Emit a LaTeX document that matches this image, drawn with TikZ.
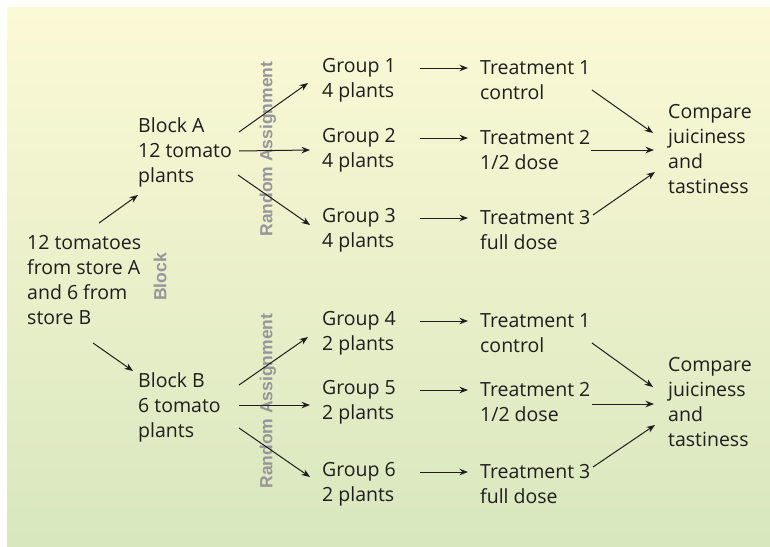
\documentclass[tikz,border=0pt]{standalone}
\usepackage{fontspec}
\setmainfont{Open Sans}
\newfontfamily\labelfont{Liberation Sans}
\usetikzlibrary{arrows.meta}
\definecolor{bgtop}{RGB}{252,249,214}
\definecolor{bgbot}{RGB}{216,231,190}
\definecolor{lblgray}{RGB}{150,150,155}
\definecolor{ink}{RGB}{30,30,30}
\begin{document}
\begin{tikzpicture}[x=1pt,y=-1pt,
  txt/.style={anchor=west, align=left, inner sep=0pt, font=\fontsize{19.5}{25}\selectfont, text=ink},
  lbl/.style={font=\labelfont\bfseries\fontsize{17.5}{17.5}\selectfont, text=lblgray, rotate=90, inner sep=0pt},
  arr/.style={-{Stealth[length=8.5pt,width=6.5pt]}, line width=1pt, draw=ink}]
\fill[white] (0,0) rectangle (770,546);
\shade[top color=bgtop, bottom color=bgbot] (7,7) rectangle (770,546);
\useasboundingbox (0,0) rectangle (770,546);

% texts
\node[txt] (start) at (27,280.5) {12 tomatoes\\from store A\\and 6 from\\store B};
\node[txt] (blockA) at (138,152) {Block A\\12 tomato\\plants};
\node[txt] (blockB) at (138,407) {Block B\\6 tomato\\plants};
\node[txt] (g1) at (322,80) {Group 1\\4 plants};
\node[txt] (g2) at (322,150) {Group 2\\4 plants};
\node[txt] (g3) at (322,230) {Group 3\\4 plants};
\node[txt] (g4) at (322,333) {Group 4\\2 plants};
\node[txt] (g5) at (322,402) {Group 5\\2 plants};
\node[txt] (g6) at (322,484) {Group 6\\2 plants};
\node[txt] (t1) at (480,80) {Treatment 1\\control};
\node[txt] (t2) at (480,150) {Treatment 2\\1/2 dose};
\node[txt] (t3) at (480,230) {Treatment 3\\full dose};
\node[txt] (t4) at (480,333) {Treatment 1\\control};
\node[txt] (t5) at (480,402) {Treatment 2\\1/2 dose};
\node[txt] (t6) at (480,484) {Treatment 3\\full dose};
\node[txt] (c1) at (668,149.5) {Compare\\juiciness\\and\\tastiness};
\node[txt] (c2) at (668,402) {Compare\\juiciness\\and\\tastiness};

% rotated labels
\node[lbl] (raA) at (268,149) {Random Assignment};
\node[lbl] (raB) at (268,401) {Random Assignment};
\node[lbl] (blk) at (160,277) {Block};

% arrows: start to blocks
\draw[arr] ([shift={(72,-57.5)}]start.west) -- ([shift={(0,43)}]blockA.west);
\draw[arr] ([shift={(66,62.5)}]start.west) -- ([shift={(-5,-36)}]blockB.west);

% blocks to groups
\draw[arr] ([shift={(101,-20)}]blockA.west) -- ([shift={(-14,3)}]g1.west);
\draw[arr] ([shift={(101,-1)}]blockA.west) -- ([shift={(-12,0)}]g2.west);
\draw[arr] ([shift={(100,23)}]blockA.west) -- ([shift={(-12,-5)}]g3.west);
\draw[arr] ([shift={(101,-22)}]blockB.west) -- ([shift={(-14,4)}]g4.west);
\draw[arr] ([shift={(101,-2)}]blockB.west) -- ([shift={(-12,3)}]g5.west);
\draw[arr] ([shift={(101,21)}]blockB.west) -- ([shift={(-12,-7)}]g6.west);

% groups to treatments
\foreach \g/\t in {g1/t1,g2/t2,g3/t3,g4/t4,g5/t5,g6/t6}{
  \draw[arr] ([shift={(98,-12)}]\g.west) -- ([shift={(-12,-12)}]\t.west);
}

% treatments to compare
\draw[arr] ([shift={(112,10)}]t1.west) -- ([shift={(-15,-16.5)}]c1.west);
\draw[arr] ([shift={(111,0)}]t2.west) -- ([shift={(-14,0.5)}]c1.west);
\draw[arr] ([shift={(113,-15)}]t3.west) -- ([shift={(-13,22.5)}]c1.west);
\draw[arr] ([shift={(112,10)}]t4.west) -- ([shift={(-15,-15)}]c2.west);
\draw[arr] ([shift={(112,2)}]t5.west) -- ([shift={(-14,2)}]c2.west);
\draw[arr] ([shift={(113,-17)}]t6.west) -- ([shift={(-13,23)}]c2.west);
\end{tikzpicture}
\end{document}
